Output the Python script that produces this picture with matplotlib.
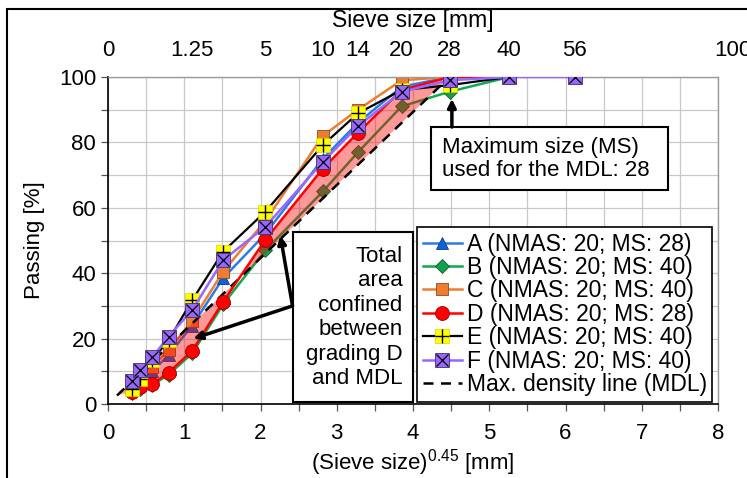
import numpy as np
import matplotlib
matplotlib.use("Agg")
import matplotlib.pyplot as plt
import matplotlib.transforms as mtransforms
from matplotlib.patches import Rectangle
from matplotlib.legend_handler import HandlerTuple

plt.rcParams["font.family"] = ["Liberation Sans", "DejaVu Sans"]
plt.rcParams["mathtext.default"] = "regular"

EXP = 0.45

# sieve sizes [mm] and passing [%] per grading
sieve = [0.075, 0.15, 0.3, 0.6, 1.25, 2.5, 5, 10, 14, 20, 28, 40]
sieve_f = sieve + [56]
pass_a = [5, 7, 10, 15, 24, 38.5, 52, 75, 86, 97, 100, 100]
pass_b = [3.5, 4.5, 5.8, 9, 15.5, 30.5, 47, 65, 77, 91, 95.5, 100]
pass_c = [6, 7.5, 11.4, 16.5, 25.5, 40.5, 56, 82, 90, 99, 100, 100]
pass_d = [3.8, 5.3, 6.1, 9.6, 16.3, 31.3, 50.2, 72, 83, 96, 100, 100]
pass_e = [4.5, 7.5, 13.5, 19.5, 31.8, 46.6, 58.8, 79.2, 88.9, 96, 97.5, 100]
pass_f = [7, 10.4, 14.3, 20.6, 28.8, 44, 54.2, 74.1, 85, 95.5, 99, 100, 100]

# maximum density line (end points)
mdl_size = [0.0087, 28]
mdl_pass = [2.6, 100]

top_labels = ["0", "1.25", "5", "10", "14", "20", "28", "40", "56", "100"]
top_sizes = [0, 1.25, 5, 10, 14, 20, 28, 40, 56, 100]

labels = ["A (NMAS: 20; MS: 28)", "B (NMAS: 20; MS: 40)", "C (NMAS: 20; MS: 40)",
          "D (NMAS: 20; MS: 28)", "E (NMAS: 20; MS: 40)", "F (NMAS: 20; MS: 40)",
          "Max. density line (MDL)"]


def tx(sizes):
    return np.asarray(sizes, dtype=float) ** EXP


fig = plt.figure(figsize=(7.47, 4.78), dpi=100)
ax = fig.add_axes([108 / 747, 74 / 478, 610 / 747, 327 / 478])

x = tx(sieve)
la, = ax.plot(x, pass_a, color="#2b7be4", lw=1.8, marker="^", ms=9,
              mfc="#1060d8", mec="#0a3c8c", mew=0.6, zorder=2)
lb, = ax.plot(x, pass_b, color="#10a850", lw=1.8, marker="D", ms=7,
              mfc="#10a050", mec="#1a5a2a", mew=0.6, zorder=2)
lc, = ax.plot(x, pass_c, color="#ed7d31", lw=1.8, marker="s", ms=9,
              mfc="#ed7d31", mec="#8a4a1c", mew=0.6, zorder=2)

# area between grading D and the MDL
d_x = x[:11]
d_y = pass_d[:11]
mx = tx(mdl_size)
ax.fill(np.r_[d_x, mx[::-1]], np.r_[d_y, mdl_pass[::-1]],
        color="red", alpha=0.4, lw=0, zorder=2.5)

lmdl, = ax.plot(mx, mdl_pass, color="black", lw=1.8, ls=(0, (4, 3)), zorder=2.6)

ld, = ax.plot(x, pass_d, color="#ff0000", lw=1.8, marker="o", ms=10,
              mfc="#ff0000", mec="#a00000", mew=0.6, zorder=3)
le, = ax.plot(x, pass_e, color="black", lw=1.6, marker="s", ms=10,
              mfc="#ffff00", mec="#d8d800", mew=0.5, zorder=3)
le2, = ax.plot(x, pass_e, ls="none", marker="+", ms=10, mec="black", mew=1.0,
               zorder=3.1)
lf, = ax.plot(tx(sieve_f), pass_f, color="#9966ff", lw=1.8, marker="s", ms=10,
              mfc="#9966ff", mec="#40306a", mew=0.6, zorder=3.2)
lf2, = ax.plot(tx(sieve_f), pass_f, ls="none", marker="x", ms=8.5, mec="black",
               mew=0.9, zorder=3.3)

ax.set_xlim(0, 8)
ax.set_ylim(0, 100)
ax.set_xticks(np.arange(0, 9, 1))
ax.set_xticks(np.arange(0, 8.01, 0.5), minor=True)
ax.set_yticks(np.arange(0, 101, 20))
ax.set_yticks(np.arange(0, 101, 10), minor=True)
ax.grid(True, which="both", color="#c8c8c8", lw=0.9, zorder=0)
ax.set_axisbelow(True)
ax.tick_params(which="both", direction="out", length=5, width=0.9,
               color="#555555", labelsize=16)
ax.tick_params(axis="x", which="both", pad=9)
for s in ("left", "bottom"):
    ax.spines[s].set_color("black")
    ax.spines[s].set_linewidth(1.2)
for s in ("top", "right"):
    ax.spines[s].set_color("#9a9a9a")
    ax.spines[s].set_linewidth(1.0)

ax.set_xlabel("(Sieve size)$^{0.45}$ [mm]", fontsize=16, labelpad=2)
ax.set_ylabel("Passing [%]", fontsize=16, labelpad=10)

# top axis: sieve size labels
trans = mtransforms.blended_transform_factory(ax.transData, fig.transFigure)
top_pos = tx(top_sizes)
top_pos[-1] = 8.2  # label sits past the axis end in the original
for pos, lab in zip(top_pos, top_labels):
    ax.text(pos, 1 - 50 / 478, lab, transform=trans, ha="center", va="center",
            fontsize=16, clip_on=False)
fig.text(413 / 747, 1 - 21 / 478, "Sieve size [mm]", ha="center", va="center",
         fontsize=16.5)

# legend
leg = ax.legend([la, lb, lc, ld, (le, le2), (lf, lf2), lmdl], labels,
                handler_map={tuple: HandlerTuple(ndivide=1)},
                loc="lower left", bbox_to_anchor=(0.507, 0.006),
                fontsize=16.5, frameon=True, fancybox=False, framealpha=1,
                edgecolor="black", borderpad=0.25, labelspacing=0.02,
                handlelength=1.7, handletextpad=0.2, borderaxespad=0)
leg.get_frame().set_linewidth(1.2)
leg.set_zorder(5)

# annotation: area between D and MDL
ax.add_patch(Rectangle((2.43, 0.6), 1.57, 52.0, fc="white", ec="black", lw=1.5,
                       zorder=5))
ax.text(3.86, 26.4, "Total\narea\nconfined\nbetween\ngrading D\nand MDL",
        ha="right", va="center", fontsize=16, linespacing=1.22, zorder=6)
for tip in [(2.26, 51.5), (1.12, 20)]:
    ax.annotate("", xy=tip, xytext=(2.42, 30),
                arrowprops=dict(arrowstyle="-|>", lw=2.5, color="black",
                                mutation_scale=12, shrinkA=0, shrinkB=0),
                zorder=6)

# annotation: maximum size used for MDL
ax.add_patch(Rectangle((4.24, 65.4), 3.1, 19.3, fc="white", ec="black", lw=1.5,
                       zorder=5))
ax.text(4.375, 74.9, "Maximum size (MS)\nused for the MDL: 28", ha="left",
        va="center", fontsize=16, linespacing=1.17, zorder=6)
ax.annotate("", xy=(4.51, 93.3), xytext=(4.51, 84.7),
            arrowprops=dict(arrowstyle="-|>", lw=2.5, color="black",
                            mutation_scale=12, shrinkA=0, shrinkB=0),
            zorder=6)

# figure border
fig.add_artist(Rectangle((7 / 747, -0.1), 1.2, 1.1 - 9 / 478, fill=False,
                         ec="black", lw=1.5, transform=fig.transFigure))

fig.savefig("out.png", dpi=100)
